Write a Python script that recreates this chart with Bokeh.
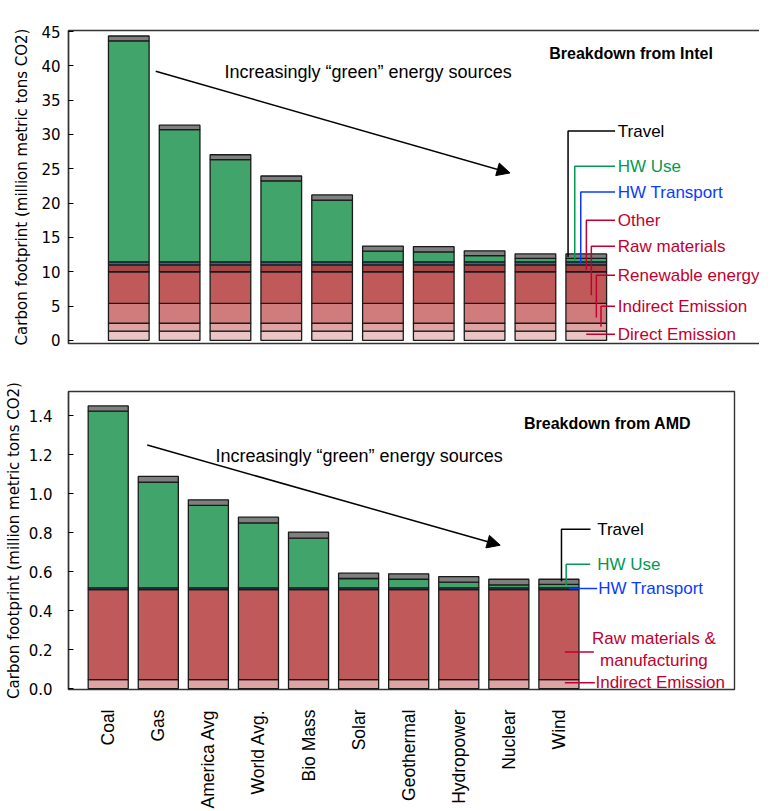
import math
from bokeh.plotting import figure
from bokeh.models import (ColumnDataSource, FixedTicker, Range1d,
                          Label, Arrow, NormalHead)
from bokeh.layouts import column
from bokeh.embed import file_html
from bokeh.resources import INLINE

# ---------------- data ----------------
categories = ["Coal", "Gas", "America Avg", "World Avg.", "Bio Mass",
              "Solar", "Geothermal", "Hydropower", "Nuclear", "Wind"]

# Intel breakdown (million metric tons CO2)
intel_direct    = [1.35, 1.35, 1.35, 1.35, 1.35, 1.35, 1.35, 1.35, 1.35, 1.35]
intel_indirect  = [1.15, 1.15, 1.15, 1.15, 1.15, 1.15, 1.15, 1.15, 1.15, 1.15]
intel_renewable = [2.9, 2.9, 2.9, 2.9, 2.9, 2.9, 2.9, 2.9, 2.9, 2.9]
intel_raw       = [4.6, 4.6, 4.6, 4.6, 4.6, 4.6, 4.6, 4.6, 4.6, 4.6]
intel_other     = [1.0, 1.0, 1.0, 1.0, 1.0, 1.0, 1.0, 1.0, 1.0, 1.0]
intel_transport = [0.45, 0.45, 0.45, 0.45, 0.45, 0.45, 0.45, 0.45, 0.45, 0.45]
intel_hw_use    = [32.2, 19.25, 14.9, 11.8, 9.0, 1.55, 1.45, 0.9, 0.5, 0.5]
intel_travel    = [0.7, 0.65, 0.7, 0.7, 0.75, 0.75, 0.75, 0.7, 0.65, 0.65]

# AMD breakdown (million metric tons CO2)
amd_indirect  = [0.046, 0.046, 0.046, 0.046, 0.046, 0.046, 0.046, 0.046, 0.046, 0.046]
amd_raw       = [0.462, 0.462, 0.462, 0.462, 0.462, 0.462, 0.462, 0.462, 0.462, 0.462]
amd_transport = [0.009, 0.009, 0.009, 0.009, 0.009, 0.009, 0.009, 0.009, 0.009, 0.009]
amd_hw_use    = [0.907, 0.543, 0.423, 0.333, 0.255, 0.048, 0.044, 0.029, 0.015, 0.018]
amd_travel    = [0.027, 0.029, 0.029, 0.030, 0.031, 0.027, 0.028, 0.029, 0.029, 0.026]

intel_yticks = [0, 5, 10, 15, 20, 25, 30, 35, 40, 45]
intel_ytick_labels = ["0", "5", "10", "15", "20", "25", "30", "35", "40", "45"]
amd_yticks = [0.0, 0.2, 0.4, 0.6, 0.8, 1.0, 1.2, 1.4]
amd_ytick_labels = ["0.0", "0.2", "0.4", "0.6", "0.8", "1.0", "1.2", "1.4"]

# annotation texts
intel_labels = ["Travel", "HW Use", "HW Transport", "Other", "Raw materials",
                "Renewable energy", "Indirect Emission", "Direct Emission"]
amd_labels = ["Travel", "HW Use", "HW Transport", "Indirect Emission"]
amd_raw_label = ["Raw materials &", "manufacturing"]
arrow_text = "Increasingly \u201cgreen\u201d energy sources"

# ---------------- styles ----------------
C_DIRECT = "#e9c5c5"
C_INDIRECT = "#dea3a3"
C_RENEW = "#d17c7c"
C_RAW = "#c05a5a"
C_OTHER = "#a84545"
C_TRANSPORT = "#2f6a92"
C_USE = "#40a46b"
C_TRAVEL = "#7f7f7f"

T_BLACK = "black"
T_GREEN = "#009a52"
T_BLUE = "#0a3cff"
T_RED = "#c2002f"

FRAME_C = "#333333"
SANS = "Liberation Sans"
AXFONT = "DejaVu Sans"
YLABEL = "Carbon footprint (million metric tons CO2)"


def base_fig(fw, fh, xr, yr, mbl, mbt, mbr, mbb, yticks, ylabels,
             lab_standoff, axlab_standoff):
    p = figure(frame_width=fw, frame_height=fh,
               x_range=Range1d(*xr), y_range=Range1d(*yr),
               output_backend="svg", toolbar_location=None,
               min_border_left=mbl, min_border_top=mbt,
               min_border_right=mbr, min_border_bottom=mbb)
    p.grid.visible = False
    p.outline_line_color = FRAME_C
    p.outline_line_width = 1.4
    p.background_fill_color = "white"
    p.border_fill_color = "white"
    ya = p.yaxis[0]
    ya.ticker = FixedTicker(ticks=yticks)
    ya.major_label_overrides = {t: l for t, l in zip(yticks, ylabels)}
    ya.major_tick_in = 5
    ya.major_tick_out = 0
    ya.minor_tick_in = 0
    ya.minor_tick_out = 0
    ya.major_tick_line_color = "black"
    ya.axis_line_color = FRAME_C
    ya.axis_line_width = 1.4
    ya.major_label_text_font = AXFONT
    ya.major_label_text_font_size = "15px"
    ya.major_label_text_color = "black"
    ya.major_label_standoff = lab_standoff
    ya.axis_label = YLABEL
    ya.axis_label_text_font = AXFONT
    ya.axis_label_text_font_size = "15px"
    ya.axis_label_text_font_style = "normal"
    ya.axis_label_text_color = "black"
    ya.axis_label_standoff = axlab_standoff
    return p


x_pos = list(range(len(categories)))

# ---------------- top: Intel ----------------
x1_range = (-1.186, 12.546)
p1 = base_fig(698, 313, x1_range, (-0.45, 45.15), 59, 30, 2, 26,
              intel_yticks, intel_ytick_labels, 8, 7)
p1.xaxis.visible = False

src1 = ColumnDataSource(dict(x=x_pos, direct=intel_direct, indirect=intel_indirect,
                             renew=intel_renewable, raw=intel_raw, other=intel_other,
                             transport=intel_transport, use=intel_hw_use,
                             travel=intel_travel))
p1.vbar_stack(["direct", "indirect", "renew", "raw", "other", "transport", "use", "travel"],
              x="x", width=0.8, source=src1,
              fill_color=[C_DIRECT, C_INDIRECT, C_RENEW, C_RAW, C_OTHER, C_TRANSPORT, C_USE, C_TRAVEL],
              line_color="#1a1a1a", line_width=1.3)

intel_label_y = [30.5, 25.36, 21.62, 17.5, 13.72, 9.5, 4.99, 0.9]
intel_leader_x = [8.642, 8.774, 8.892, 9.002, 9.10, 9.199, 9.29, 9.0]
intel_leader_bottom = [12.16, 11.68, 11.2, 10.24, 6.59, 3.35, 1.98, 0.9]
intel_colors = [T_BLACK, T_GREEN, T_BLUE, T_RED, T_RED, T_RED, T_RED, T_RED]
line_end1 = 9.567
text_x1 = 9.62
p1.multi_line(xs=[[lx, lx, line_end1] for lx in intel_leader_x],
              ys=[[b, y, y] for b, y in zip(intel_leader_bottom, intel_label_y)],
              line_color=intel_colors, line_width=1.5)
for t, y, c in zip(intel_labels, intel_label_y, intel_colors):
    p1.add_layout(Label(x=text_x1, y=y, text=t, text_font=SANS, text_font_size="17px",
                        text_color=c, text_baseline="middle", text_align="left"))

p1.add_layout(Arrow(end=NormalHead(size=13, fill_color="black", line_color="black"),
                    x_start=0.53, y_start=39.2, x_end=7.5, y_end=24.4,
                    line_color="black", line_width=1.5))
p1.add_layout(Label(x=1.883, y=39.1, text=arrow_text, text_font=SANS,
                    text_font_size="18px", text_color="black",
                    text_baseline="middle", text_align="left"))
p1.add_layout(Label(x=11.49, y=41.8, text="Breakdown from Intel", text_font=SANS,
                    text_font_size="16px", text_font_style="bold", text_color="black",
                    text_baseline="middle", text_align="right"))

# ---------------- bottom: AMD ----------------
x2_range = (-0.793, 12.506)
p2 = base_fig(666, 298, x2_range, (-0.005, 1.525), 68, 22, 26, 110,
              amd_yticks, amd_ytick_labels, 16, 3)
xa = p2.xaxis[0]
xa.ticker = FixedTicker(ticks=x_pos)
xa.major_label_overrides = {i: c for i, c in zip(x_pos, categories)}
xa.major_label_orientation = math.pi / 2
xa.major_tick_line_color = None
xa.minor_tick_line_color = None
xa.axis_line_color = None
xa.major_label_text_font = SANS
xa.major_label_text_font_size = "17.5px"
xa.major_label_text_color = "black"
xa.major_label_standoff = 14

src2 = ColumnDataSource(dict(x=x_pos, indirect=amd_indirect, raw=amd_raw,
                             transport=amd_transport, use=amd_hw_use, travel=amd_travel))
p2.vbar_stack(["indirect", "raw", "transport", "use", "travel"],
              x="x", width=0.8, source=src2,
              fill_color=[C_INDIRECT, C_RAW, C_TRANSPORT, C_USE, C_TRAVEL],
              line_color="#1a1a1a", line_width=1.3)

amd_xs = [[9.051, 9.051, 9.631], [9.145, 9.145, 9.625], [9.199, 9.764],
          [9.119, 9.698], [9.119, 9.718]]
amd_ys = [[0.551, 0.818, 0.818], [0.531, 0.638, 0.638], [0.514, 0.514],
          [0.188, 0.188], [0.03, 0.03]]
amd_line_colors = [T_BLACK, T_GREEN, T_BLUE, T_RED, T_RED]
p2.multi_line(xs=amd_xs, ys=amd_ys, line_color=amd_line_colors, line_width=1.5)

amd_label_x = [9.764, 9.764, 9.784, 9.73]
amd_label_y = [0.818, 0.638, 0.514, 0.03]
amd_label_colors = [T_BLACK, T_GREEN, T_BLUE, T_RED]
for t, x, y, c in zip(amd_labels, amd_label_x, amd_label_y, amd_label_colors):
    p2.add_layout(Label(x=x, y=y, text=t, text_font=SANS, text_font_size="17px",
                        text_color=c, text_baseline="middle", text_align="left"))
for t, y in zip(amd_raw_label, [0.257, 0.145]):
    p2.add_layout(Label(x=10.897, y=y, text=t, text_font=SANS, text_font_size="17px",
                        text_color=T_RED, text_baseline="middle", text_align="center"))

p2.add_layout(Arrow(end=NormalHead(size=13, fill_color="black", line_color="black"),
                    x_start=0.779, y_start=1.25, x_end=7.827, y_end=0.736,
                    line_color="black", line_width=1.5))
p2.add_layout(Label(x=2.143, y=1.193, text=arrow_text, text_font=SANS,
                    text_font_size="18px", text_color="black",
                    text_baseline="middle", text_align="left"))
p2.add_layout(Label(x=11.64, y=1.361, text="Breakdown from AMD", text_font=SANS,
                    text_font_size="16px", text_font_style="bold", text_color="black",
                    text_baseline="middle", text_align="right"))

layout = column(p1, p2)
open("out.html", "w").write(file_html(layout, INLINE))
